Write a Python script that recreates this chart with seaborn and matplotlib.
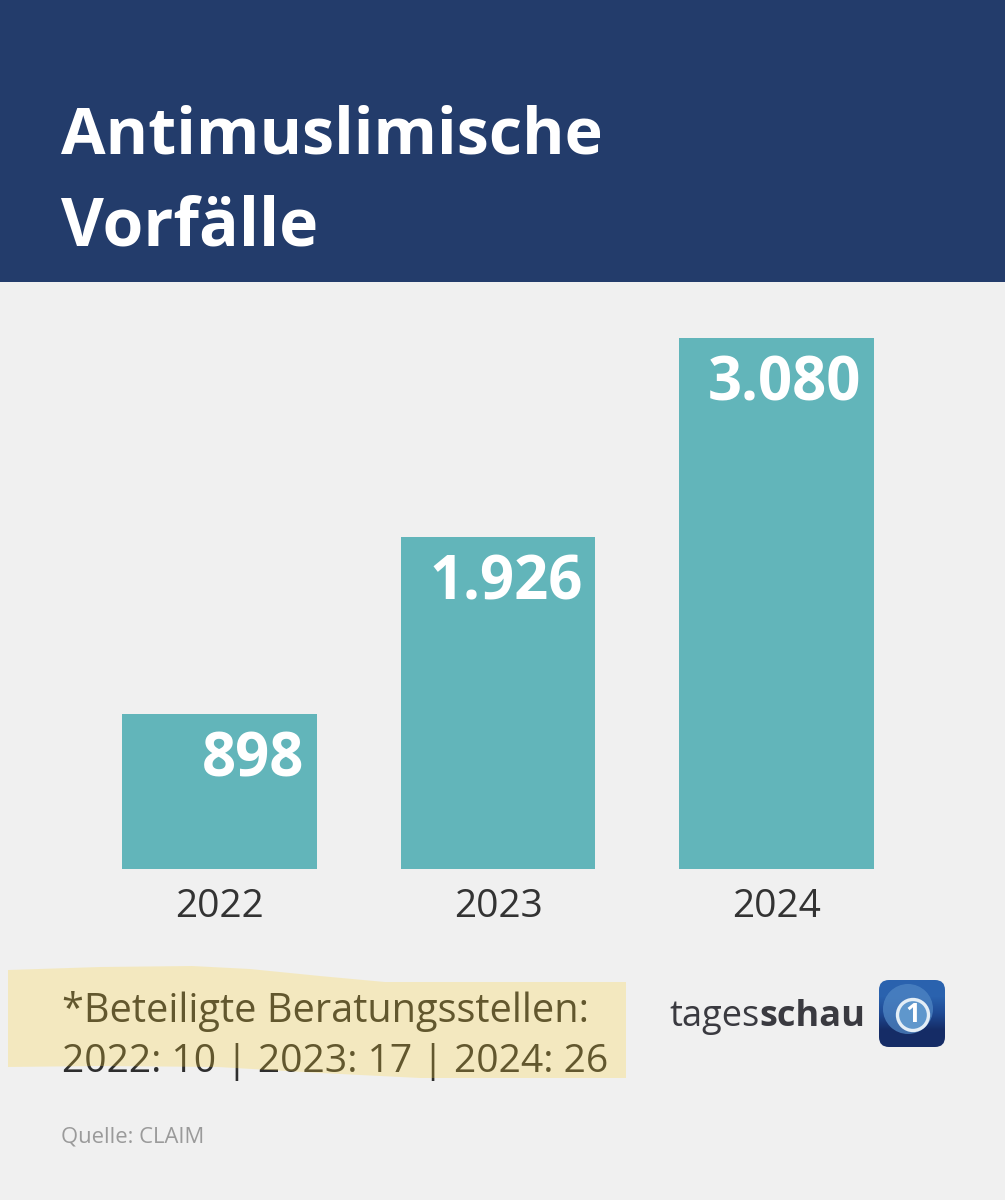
import matplotlib.pyplot as plt
import matplotlib.patches as mpatches
from matplotlib.colors import LinearSegmentedColormap
import pandas as pd
import seaborn as sns

jahre = ["2022", "2023", "2024"]
vorfaelle = [898, 1926, 3080]
labels = ["898", "1.926", "3.080"]
titel = "Antimuslimische\nVorfälle"
zeile1 = "*Beteiligte Beratungsstellen:"
zeile2 = "2022: 10 | 2023: 17 | 2024: 26"
quelle = "Quelle: CLAIM"

df = pd.DataFrame({"jahr": jahre, "vorfaelle": vorfaelle})

sns.set_theme(style="white")
plt.rcParams["font.family"] = ["Open Sans", "DejaVu Sans"]

W, H = 1005, 1200
bg = "#f0f0f0"
fig = plt.figure(figsize=(W / 100, H / 100), dpi=100, facecolor=bg)

# overlay in Pixeln fuer Header, Texte, Logo
ov = fig.add_axes([0, 0, 1, 1], zorder=1)
ov.set_xlim(0, W)
ov.set_ylim(H, 0)
ov.axis("off")
ov.add_patch(mpatches.Rectangle((0, 0), W, 282, color="#233c6b", lw=0))
ov.text(61, 154, titel.split("\n")[0], color="white", fontsize=46.5, fontweight="bold", va="baseline")
ov.text(61, 245, titel.split("\n")[1], color="white", fontsize=47.5, fontweight="bold", va="baseline")

# Balken
ax = fig.add_axes([80.25 / W, 1 - 869 / H, 835.5 / W, 531 / H], zorder=2)
ax.patch.set_alpha(0)
sns.barplot(data=df, x="jahr", y="vorfaelle", color="#62b5ba", saturation=1, width=0.7, linewidth=0, ax=ax)
ax.set_xlim(-0.5, 2.5)
ax.set_ylim(0, 3080)
sns.despine(ax=ax, left=True, bottom=True)
ax.set_yticks([])
ax.set_xlabel("")
ax.set_ylabel("")
ax.tick_params(axis="x", length=0, pad=14, labelsize=28, labelcolor="#333333")
for i, (v, lab) in enumerate(zip(vorfaelle, labels)):
    ax.annotate(lab, xy=(i + 0.35, v), xytext=(-9, -45), textcoords="offset points",
                ha="right", va="baseline", color="white", fontsize=43, fontweight="bold")

# Fussnote, Marker liegt darueber
ov.text(62, 1022, zeile1, color="#2e2e2e", fontsize=28.6, va="baseline")
ov.text(62, 1072, zeile2, color="#2e2e2e", fontsize=28.2, va="baseline")
ov.text(61, 1143, quelle, color="#9a9a9a", fontsize=15.8, va="baseline")
marker = [(8, 970), (100, 967), (192, 966), (250, 969), (320, 976), (385, 982), (626, 982),
          (626, 1078), (420, 1078), (320, 1073), (218, 1067), (100, 1066), (8, 1067)]
ov.add_patch(mpatches.Polygon(marker, closed=True, facecolor="#ffd430", alpha=0.25, lw=0, zorder=5))

# Logo
t1 = ov.text(669, 1026, "tages", color="#3a3a40", fontsize=26, va="baseline")
fig.canvas.draw()
bb = t1.get_window_extent()
ov.text(bb.x1, 1026, "schau", color="#3a3a40", fontsize=26, fontweight="bold", va="baseline")
box = mpatches.FancyBboxPatch((879, 980), 66, 67, boxstyle="round,pad=0,rounding_size=10",
                              facecolor="none", edgecolor="none", transform=ov.transData)
ov.add_patch(box)
blau = LinearSegmentedColormap.from_list("logo", ["#2a62ae", "#1f4a94", "#152c66"])
img = ov.imshow([[0], [1]], cmap=blau, extent=(879, 945, 1047, 980), aspect="auto",
                interpolation="bilinear", zorder=2)
img.set_clip_path(box)
ov.set_xlim(0, W)
ov.set_ylim(H, 0)
ov.add_patch(mpatches.Circle((908, 1009), 25, facecolor="#4f86c4", alpha=0.75, lw=0, zorder=3))
ov.add_patch(mpatches.Circle((913, 1015), 15.5, facecolor="#5f97cc", edgecolor="#e4eef6", lw=2.4, zorder=4))
ov.text(913, 1015, "1", color="white", fontsize=19, fontweight="bold", ha="center", va="center", zorder=4)

fig.savefig("out.png", dpi=100, facecolor=bg)
